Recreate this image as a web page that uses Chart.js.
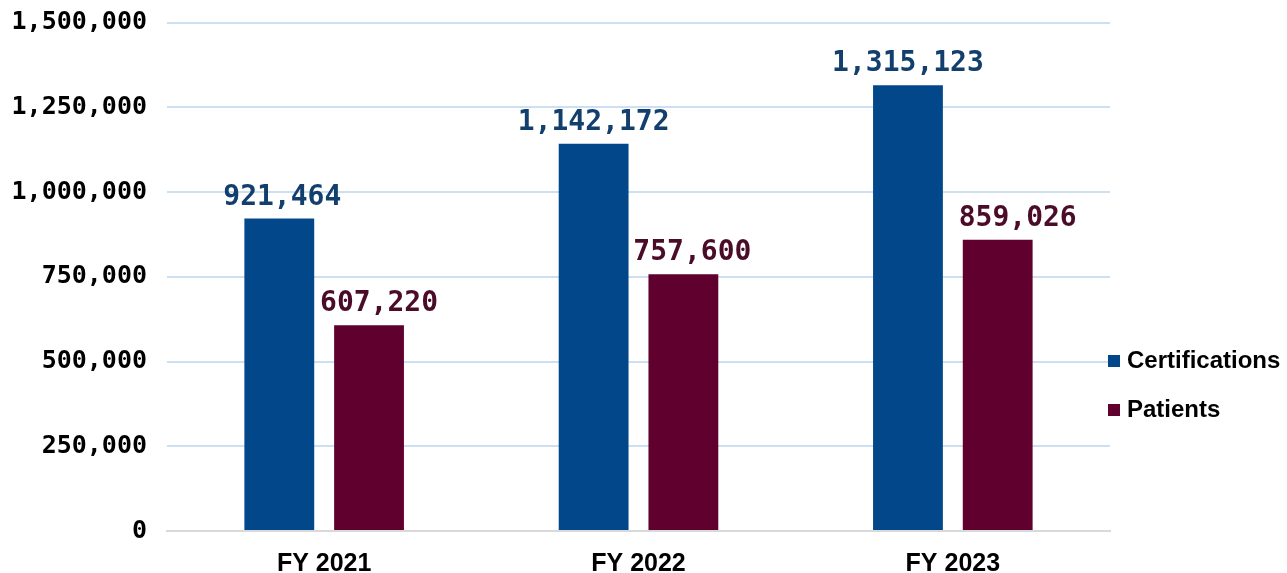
<!DOCTYPE html>
<html>
<head>
<meta charset="utf-8">
<script src="https://cdn.jsdelivr.net/npm/chart.js@4.4.1/dist/chart.umd.min.js"></script>
<style>
  html, body { margin: 0; padding: 0; background: #fff; }
  #wrap { width: 1287px; height: 573px; }
</style>
</head>
<body>
<div id="wrap"><canvas id="barChart"></canvas></div>
<script>
const years = ['FY 2021', 'FY 2022', 'FY 2023'];
const certifications = [921464, 1142172, 1315123];
const patients = [607220, 757600, 859026];
const yTicks = [0, 250000, 500000, 750000, 1000000, 1250000, 1500000];

const monoFont = '"DejaVu Sans Mono", "Liberation Mono", monospace';
const sansFont = '"Liberation Sans", Arial, sans-serif';
const fmt = v => v.toLocaleString('en-US');

// value labels above each bar
const valueLabels = {
    id: 'valueLabels',
    afterDatasetsDraw(chart) {
        const ctx = chart.ctx;
        ctx.save();
        ctx.font = 'bold 28px ' + monoFont;
        ctx.textAlign = 'center';
        ctx.textBaseline = 'bottom';
        chart.data.datasets.forEach((ds, i) => {
            chart.getDatasetMeta(i).data.forEach((bar, j) => {
                ctx.fillStyle = ds.labelColor;
                ctx.fillText(fmt(ds.data[j]), bar.x + ds.labelShift[j], bar.y - 7);
            });
        });
        ctx.restore();
    }
};

// legend on the right side
const sideLegend = {
    id: 'sideLegend',
    afterDraw(chart) {
        const ctx = chart.ctx;
        const x = chart.chartArea.right;
        ctx.save();
        ctx.font = 'bold 24px ' + sansFont;
        ctx.textBaseline = 'middle';
        chart.data.datasets.forEach((ds, i) => {
            const y = 361 + i * 49;
            ctx.fillStyle = ds.backgroundColor;
            ctx.fillRect(x - 2, y - 6, 12, 12);
            ctx.fillStyle = '#000';
            ctx.fillText(ds.label, x + 17, y);
        });
        ctx.restore();
    }
};

new Chart(document.getElementById('barChart'), {
    type: 'bar',
    data: {
        labels: years,
        datasets: [{
            label: 'Certifications',
            data: certifications,
            backgroundColor: '#03478b',
            labelColor: '#123f6d',
            labelShift: [3, 0, 0]
        }, {
            label: 'Patients',
            data: patients,
            backgroundColor: '#5f002f',
            labelColor: '#4a0c29',
            labelShift: [10, 9, 20]
        }]
    },
    options: {
        responsive: true,
        maintainAspectRatio: false,
        animation: false,
        layout: { padding: { left: 10, right: 177, top: 0, bottom: 0 } },
        datasets: {
            bar: { categoryPercentage: 0.571, barPercentage: 0.778 }
        },
        plugins: {
            legend: { display: false },
            tooltip: { enabled: false }
        },
        scales: {
            x: {
                afterFit(axis) { axis.height = 42; },
                grid: { display: false, drawTicks: false },
                border: { color: '#d9d9d9', width: 2 },
                ticks: {
                    color: '#000',
                    padding: 18,
                    font: { family: sansFont, size: 25, weight: 'bold' }
                }
            },
            y: {
                min: 0,
                max: 1500000,
                afterBuildTicks(axis) {
                    axis.ticks = yTicks.map(v => ({ value: v }));
                },
                afterFit(axis) { axis.width = 157; },
                grid: {
                    drawTicks: false,
                    color: ctx => ctx.tick.value === 0 ? '#d9d9d9' : '#cde0f2',
                    lineWidth: 2
                },
                border: { display: false },
                ticks: {
                    color: '#000',
                    padding: 20,
                    font: { family: monoFont, size: 25, weight: 'bold', lineHeight: 0.2 },
                    callback: v => fmt(v)
                }
            }
        }
    },
    plugins: [valueLabels, sideLegend]
});
</script>
</body>
</html>
